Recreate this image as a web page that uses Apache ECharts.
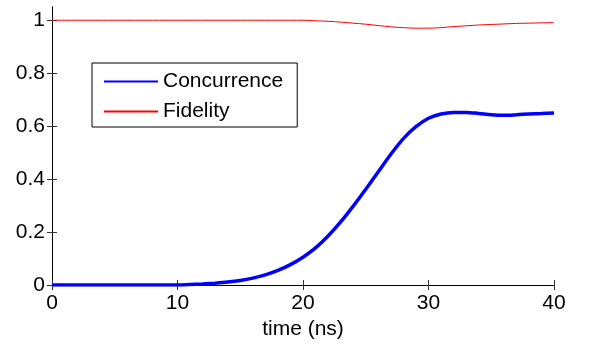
<!DOCTYPE html>
<html>
<head>
<meta charset="utf-8">
<script src="https://cdn.jsdelivr.net/npm/echarts@6/dist/echarts.min.js"></script>
<style>
html,body{margin:0;padding:0;background:#fff;}
#c{width:590px;height:346px;}
</style>
</head>
<body>
<div id="c"></div>
<script>
const time = [0,1,2,3,4,5,6,7,8,9,10,11,12,13,14,15,16,17,18,19,20,21,22,23,24,25,26,27,28,29,30,31,32,33,34,35,36,37,38,39,40];
const concurrence = [0,0,0,0,0,0,0,0,0,0,0,0.002,0.004,0.007,0.011,0.017,0.026,0.038,0.055,0.077,0.105,0.140,0.185,0.238,0.298,0.362,0.428,0.494,0.553,0.598,0.630,0.646,0.652,0.652,0.648,0.643,0.641,0.643,0.646,0.648,0.650];
const fidelity = [1,1,1,1,1,1,1,1,1,1,1,1,1,1,1,1,1,1,1,1,1,0.998,0.996,0.993,0.989,0.985,0.980,0.975,0.972,0.970,0.970,0.972,0.976,0.979,0.982,0.984,0.986,0.988,0.989,0.990,0.991];
const xTicks = [0,10,20,30,40];
const yTicks = [0,0.2,0.4,0.6,0.8,1];
const seriesNames = ['Concurrence','Fidelity'];
const xLabel = 'time (ns)';

const FONT = 'Liberation Sans, Arial, sans-serif';
const chart = echarts.init(document.getElementById('c'), null, {renderer:'canvas'});
const pair = (ys) => time.map((t,i)=>[t, ys[i]]);
const axisLine = {show:true, lineStyle:{color:'#000', width:1}};
const tick = {show:true, inside:true, length:5, lineStyle:{color:'#333', width:1}};
chart.setOption({
  animation:false,
  backgroundColor:'#fff',
  grid:{left:52, right:36, top:7, bottom:61, containLabel:false},
  legend:{
    left:92, top:63, orient:'vertical',
    data:seriesNames,
    itemWidth:54, itemHeight:20, itemGap:9,
    padding:[8,14,5,11],
    borderColor:'#000', borderWidth:1, backgroundColor:'#fff',
    itemStyle:{color:'rgba(0,0,0,0)', borderWidth:0, opacity:0},
    textStyle:{fontFamily:FONT, fontSize:21, color:'#000'}
  },
  xAxis:[{
    type:'value', min:0, max:40, interval:10, position:'bottom',
    name:xLabel, nameLocation:'middle', nameGap:33,
    nameTextStyle:{fontFamily:FONT, fontSize:21, color:'#000'},
    axisLine:axisLine, axisTick:tick, splitLine:{show:false},
    axisLabel:{fontFamily:FONT, fontSize:21, color:'#000', margin:8,
      customValues:xTicks}
  },{
    type:'value', min:0, max:40, interval:10, position:'top',
    axisLine:axisLine, axisTick:tick, splitLine:{show:false},
    axisLabel:{show:false}
  }],
  yAxis:[{
    type:'value', min:0, max:1.05, interval:0.2, position:'left',
    axisLine:axisLine, axisTick:Object.assign({}, tick, {customValues:yTicks}), splitLine:{show:false},
    axisLabel:{fontFamily:FONT, fontSize:21, color:'#000', margin:7, customValues:yTicks,
      formatter:(v)=>String(+v.toFixed(1))}
  },{
    type:'value', min:0, max:1.05, interval:0.2, position:'right',
    axisLine:axisLine, axisTick:Object.assign({}, tick, {customValues:yTicks}), splitLine:{show:false},
    axisLabel:{show:false}
  }],
  series:[{
    name:seriesNames[0], type:'line', data:pair(concurrence),
    showSymbol:false, symbol:'none', smooth:0.3,
    lineStyle:{color:'#0000ff', width:3.5}, itemStyle:{color:'#0000ff'}, z:3
  },{
    name:seriesNames[1], type:'line', data:pair(fidelity),
    showSymbol:false, symbol:'none', smooth:0.3,
    lineStyle:{color:'#ff0000', width:1}, itemStyle:{color:'#ff0000'}, z:2
  }]
});
</script>
</body>
</html>
